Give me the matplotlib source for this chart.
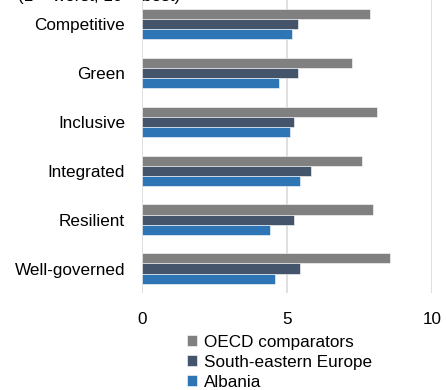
import matplotlib
matplotlib.use('Agg')
import matplotlib.pyplot as plt
import numpy as np

categories = ['Competitive', 'Green', 'Inclusive', 'Integrated', 'Resilient', 'Well-governed']
oecd = [7.87, 7.22, 8.09, 7.58, 7.95, 8.53]
see = [5.38, 5.38, 5.23, 5.82, 5.23, 5.45]
albania = [5.16, 4.72, 5.10, 5.45, 4.42, 4.57]

series = [('OECD comparators', oecd, '#808080'),
          ('South-eastern Europe', see, '#44546A'),
          ('Albania', albania, '#2E75B6')]

plt.rcParams['font.family'] = ['Liberation Sans', 'DejaVu Sans']
fs = 12.3

fig = plt.figure(figsize=(4.46, 3.9), dpi=100)
ax = fig.add_axes([141.7 / 446, 1 - 293 / 390, (432.3 - 141.7) / 446, 293 / 390 + 0.002])

y = np.arange(len(categories))
h = 0.205
for i, (name, vals, col) in enumerate(series):
    ax.barh(y + (i - 1) * h, vals, height=h, color=col, label=name,
            edgecolor='white', linewidth=0.4)

ax.set_ylim(len(categories) - 0.5, -0.5)
ax.set_xlim(0, 10)
ax.set_xticks([0, 5, 10])
ax.set_yticks(y)
ax.set_yticklabels(categories, fontsize=fs)
ax.tick_params(axis='x', labelsize=fs, length=0, pad=14)
ax.tick_params(axis='y', length=0, pad=12)
ax.grid(axis='x', color='#d9d9d9', linewidth=1.2)
ax.set_axisbelow(True)
for s in ax.spines.values():
    s.set_visible(False)

fig.text(18 / 446, 1 - 1.5 / 390, '(1 = worst, 10 = best)', fontsize=fs,
         va='baseline', ha='left')

handles, labels = ax.get_legend_handles_labels()
fig.legend(handles, labels, loc='upper left', bbox_to_anchor=(178 / 446, 1 - 326 / 390),
           frameon=False, fontsize=fs, handlelength=0.6, handleheight=0.6,
           handletextpad=0.4, labelspacing=0.3, borderpad=0)

fig.savefig('out.png', dpi=100)
